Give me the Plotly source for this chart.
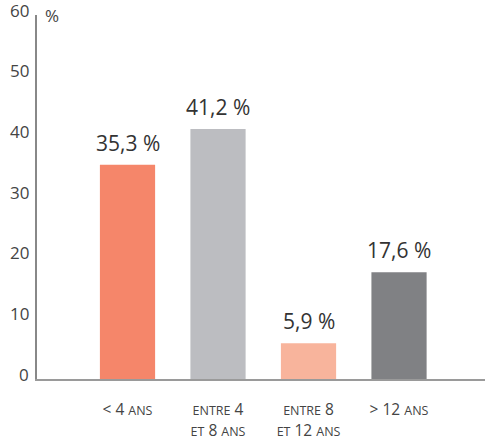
import plotly.graph_objects as go

categories = ["< 4 ans", "entre 4 et 8 ans", "entre 8 et 12 ans", "> 12 ans"]
tick_labels = [
    "< 4 <span style='font-size:12.5px'>ANS</span>",
    "<span style='font-size:12.5px'>ENTRE</span> 4<br><span style='font-size:12.5px'>ET</span> 8 <span style='font-size:12.5px'>ANS</span>",
    "<span style='font-size:12.5px'>ENTRE</span> 8<br><span style='font-size:12.5px'>ET</span> 12 <span style='font-size:12.5px'>ANS</span>",
    "> 12 <span style='font-size:12.5px'>ANS</span>",
]
values = [35.3, 41.2, 5.9, 17.6]
value_labels = ["35,3 %", "41,2 %", "5,9 %", "17,6 %"]
colors = ["#F5866A", "#BCBDC1", "#F8B49C", "#808184"]
y_ticks = [0, 10, 20, 30, 40, 50, 60]

x = list(range(len(categories)))

fig = go.Figure()
fig.add_trace(go.Bar(
    x=x, y=values, width=0.61,
    marker=dict(color=colors, line=dict(width=0)),
    hoverinfo="skip",
))

annotations = [
    dict(x=xi, y=v, text=t, xref="x", yref="y", showarrow=False,
         xanchor="center", yanchor="bottom", yshift=6,
         font=dict(size=21, color="#333333", family="Open Sans"))
    for xi, v, t in zip(x, values, value_labels)
]
# y-axis tick labels (drawn as annotations so they can sit slightly above their line)
annotations += [
    dict(x=0, y=t, text=str(t), xref="paper", yref="y", showarrow=False,
         xanchor="right", yanchor="middle", xshift=-6, yshift=5,
         font=dict(size=17, color="#444444", family="Open Sans"))
    for t in y_ticks
]
annotations.append(dict(
    text="%", xref="paper", yref="paper", x=0.013, y=1.0,
    xanchor="left", yanchor="middle", showarrow=False,
    font=dict(size=17, color="#444444", family="Open Sans"),
))

fig.update_layout(
    width=485, height=439,
    margin=dict(l=37, r=0, t=15, b=60, autoexpand=False),
    paper_bgcolor="white", plot_bgcolor="white",
    showlegend=False,
    font=dict(family="Open Sans", color="#444444"),
    xaxis=dict(
        range=[-1, 3.95], tickmode="array", tickvals=x, ticktext=tick_labels,
        tickfont=dict(size=15.5, color="#444444"),
        showline=True, linecolor="#9a9a9a", linewidth=1.5,
        showgrid=False, zeroline=False, ticks="", fixedrange=True,
        ticklabelstandoff=16, automargin=False,
    ),
    yaxis=dict(
        range=[0, 60], tickvals=y_ticks, showticklabels=False,
        showline=True, linecolor="#888888", linewidth=1.5,
        showgrid=False, zeroline=False, ticks="", automargin=False,
    ),
    annotations=annotations,
)

fig.write_html("out.html")
